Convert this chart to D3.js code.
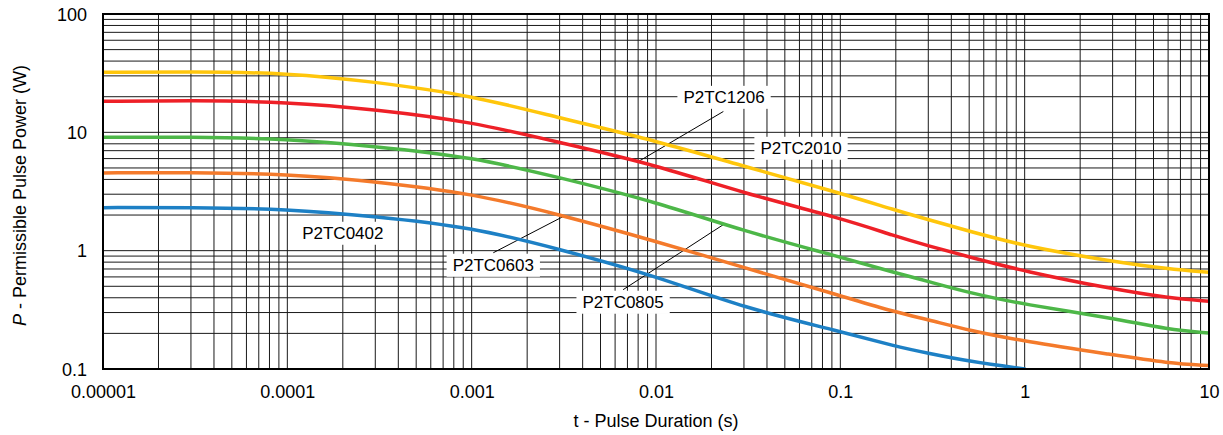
<!DOCTYPE html>
<html>
<head>
<meta charset="utf-8">
<script src="https://cdn.jsdelivr.net/npm/d3@7"></script>
<style>
  body { margin: 0; background: #fff; }
  text { font-family: 'Liberation Sans', Arial, sans-serif; fill: #000; }
</style>
</head>
<body>
<script>
const width = 1223;
const height = 435;
const margin = { top: 14, right: 14, bottom: 66, left: 103 };

// pulse duration (s) at which the curves were read
const pulseTimes = [1e-5, 3e-5, 1e-4, 3e-4, 1e-3, 3e-3, 1e-2, 3e-2, 0.1, 0.2, 0.3, 0.5, 1, 3, 6, 10];

// permissible pulse power (W) per part
const p2tc2010 = [32.2, 32.6, 31.8, 26.7, 20.5, 13.2, 8.5, 5.16, 3.07, 2.19, 1.83, 1.46, 1.09, 0.81, 0.70, 0.656];
const p2tc1206 = [18.3, 18.6, 18.1, 15.6, 12.3, 8.2, 5.3, 3.05, 1.89, 1.32, 1.10, 0.885, 0.668, 0.474, 0.398, 0.373];
const p2tc0805 = [9.07, 9.15, 8.8, 7.6, 6.2, 4.15, 2.58, 1.46, 0.885, 0.648, 0.55, 0.44, 0.35, 0.27, 0.215, 0.201];
const p2tc0603 = [4.54, 4.59, 4.45, 3.85, 3.05, 2.02, 1.2, 0.72, 0.417, 0.301, 0.261, 0.212, 0.171, 0.132, 0.112, 0.107];
const p2tc0402 = [2.31, 2.32, 2.25, 1.95, 1.58, 1.03, 0.61, 0.328, 0.208, 0.155, 0.136, 0.116, 0.100];

const seriesValues = [p2tc2010, p2tc1206, p2tc0805, p2tc0603, p2tc0402];
const seriesColors = ['#FFC60B', '#EE2027', '#4DB748', '#F47A2B', '#1D80C5'];

const xTickValues = [1e-5, 1e-4, 1e-3, 1e-2, 0.1, 1, 10];
const xTickLabels = ['0.00001', '0.0001', '0.001', '0.01', '0.1', '1', '10'];
const yTickValues = [0.1, 1, 10, 100];
const yTickLabels = ['0.1', '1', '10', '100'];

// label text anchor (t, P) and optional leader line from/to (t, P)
const labelNames = ['P2TC1206', 'P2TC2010', 'P2TC0603', 'P2TC0805', 'P2TC0402'];
const labelAt = [[0.0234, 20], [0.0612, 7.42], [0.00131, 0.762], [0.00663, 0.371], [0.0002, 1.42]];
const leaderFrom = [[0.0232, 15.0], null, [0.00131, 0.96], [0.00663, 0.468], null];
const leaderTo = [[0.0080, 5.65], null, [0.00313, 1.94], [0.0232, 1.66], null];

const x = d3.scaleLog()
    .domain([1e-5, 10])
    .range([margin.left, width - margin.right]);

const y = d3.scaleLog()
    .domain([0.1, 100])
    .range([height - margin.bottom, margin.top]);

const svg = d3.create('svg')
    .attr('width', width)
    .attr('height', height);

document.querySelector('body').appendChild(svg.node());

// grid: every 1..9 of each decade
const xGrid = [];
for (let e = -5; e < 1; e++) for (let m = 1; m < 10; m++) xGrid.push(m * Math.pow(10, e));
const yGrid = [];
for (let e = -1; e < 2; e++) for (let m = 1; m < 10; m++) yGrid.push(m * Math.pow(10, e));

const grid = svg.append('g')
    .attr('stroke', '#1a1a1a')
    .attr('stroke-width', 1);

grid.selectAll('.vx')
    .data(xGrid)
    .join('line')
    .attr('x1', d => x(d))
    .attr('x2', d => x(d))
    .attr('y1', y.range()[0])
    .attr('y2', y.range()[1]);

grid.selectAll('.hy')
    .data(yGrid)
    .join('line')
    .attr('x1', x.range()[0])
    .attr('x2', x.range()[1])
    .attr('y1', d => y(d))
    .attr('y2', d => y(d));

// leader lines
svg.append('g')
    .selectAll('line')
    .data(labelNames.map((n, i) => ({ from: leaderFrom[i], to: leaderTo[i] })).filter(d => d.from))
    .join('line')
    .attr('stroke', '#000')
    .attr('stroke-width', 1)
    .attr('x1', d => x(d.from[0]))
    .attr('y1', d => y(d.from[1]))
    .attr('x2', d => x(d.to[0]))
    .attr('y2', d => y(d.to[1]));

// curves
const line = d3.line()
    .x(d => x(d[0]))
    .y(d => y(d[1]))
    .curve(d3.curveBasis);

svg.append('clipPath')
    .attr('id', 'plot-clip')
    .append('rect')
    .attr('x', x.range()[0])
    .attr('y', y.range()[1])
    .attr('width', x.range()[1] - x.range()[0])
    .attr('height', y.range()[0] - y.range()[1]);

svg.append('g')
    .attr('clip-path', 'url(#plot-clip)')
    .selectAll('path')
    .data(seriesValues)
    .join('path')
    .attr('fill', 'none')
    .attr('stroke', (d, i) => seriesColors[i])
    .attr('stroke-width', 3.5)
    .attr('stroke-linecap', 'round')
    .attr('d', vals => line(vals.map((v, i) => [pulseTimes[i], v])));

// labels with white boxes
const labels = svg.append('g')
    .selectAll('g')
    .data(labelNames)
    .join('g')
    .attr('transform', (d, i) => `translate(${x(labelAt[i][0])},${y(labelAt[i][1])})`);

labels.append('rect').attr('fill', '#fff');

labels.append('text')
    .attr('text-anchor', 'middle')
    .attr('dy', '0.36em')
    .attr('font-size', 17)
    .text(d => d);

labels.each(function() {
    const g = d3.select(this);
    const b = g.select('text').node().getBBox();
    g.select('rect')
        .attr('x', b.x - 6)
        .attr('y', b.y - 2)
        .attr('width', b.width + 12)
        .attr('height', b.height + 4);
});

// plot frame
svg.append('rect')
    .attr('x', x.range()[0])
    .attr('y', y.range()[1])
    .attr('width', x.range()[1] - x.range()[0])
    .attr('height', y.range()[0] - y.range()[1])
    .attr('fill', 'none')
    .attr('stroke', '#000')
    .attr('stroke-width', 2);

// axes
const x_axis = d3.axisBottom(x)
    .tickValues(xTickValues)
    .tickFormat((d, i) => xTickLabels[i])
    .tickSize(0);

const y_axis = d3.axisLeft(y)
    .tickValues(yTickValues)
    .tickFormat((d, i) => yTickLabels[i])
    .tickSize(0);

const gx = svg.append('g')
    .attr('transform', `translate(0,${height - margin.bottom})`)
    .call(x_axis);
gx.select('.domain').remove();
gx.selectAll('text')
    .attr('y', 29)
    .attr('dy', 0)
    .attr('font-size', 18)
    .attr('font-family', null);

const gy = svg.append('g')
    .attr('transform', `translate(${margin.left},0)`)
    .call(y_axis);
gy.select('.domain').remove();
gy.selectAll('text')
    .attr('x', -16)
    .attr('dy', '0.35em')
    .attr('font-size', 18)
    .attr('font-family', null);

// axis titles
svg.append('text')
    .attr('x', (x.range()[0] + x.range()[1]) / 2)
    .attr('y', 427)
    .attr('text-anchor', 'middle')
    .attr('font-size', 18)
    .text('t - Pulse Duration (s)');

const yTitle = svg.append('text')
    .attr('transform', `translate(26,${(y.range()[0] + y.range()[1]) / 2 + 4}) rotate(-90)`)
    .attr('text-anchor', 'middle')
    .attr('font-size', 18);
yTitle.append('tspan').attr('font-style', 'italic').text('P');
yTitle.append('tspan').text(' - Permissible Pulse Power (W)');
</script>
</body>
</html>
